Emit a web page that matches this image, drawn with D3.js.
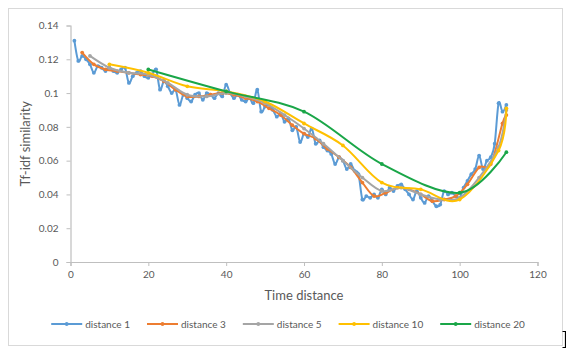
<!DOCTYPE html>
<html>
<head>
<meta charset="utf-8">
<script src="https://cdn.jsdelivr.net/npm/d3@7"></script>
<style>
  html, body { margin: 0; padding: 0; background: #fff; }
  svg { display: block; font-family: Lato, "Open Sans", sans-serif; }
</style>
</head>
<body>
<svg id="chart" width="566" height="356"></svg>
<script>
// ---- data ----
const seriesNames = ["distance 1", "distance 3", "distance 5", "distance 10", "distance 20"];
const seriesColors = ["#5B9BD5", "#ED7D31", "#A5A5A5", "#FFC000", "#1AA648"];

const x1 = d3.range(1, 113);
const y1 = [
  0.131, 0.119, 0.122, 0.120, 0.117, 0.112, 0.116, 0.115, 0.113, 0.115,
  0.113, 0.112, 0.114, 0.115, 0.106, 0.110, 0.112, 0.113, 0.110, 0.109,
  0.111, 0.114, 0.102, 0.107, 0.104, 0.100, 0.102, 0.093, 0.099, 0.097,
  0.095, 0.099, 0.100, 0.096, 0.100, 0.099, 0.097, 0.100, 0.098, 0.105,
  0.100, 0.097, 0.099, 0.096, 0.095, 0.097, 0.094, 0.102, 0.089, 0.092,
  0.093, 0.090, 0.086, 0.088, 0.083, 0.085, 0.078, 0.080, 0.071, 0.076,
  0.074, 0.079, 0.070, 0.072, 0.068, 0.066, 0.064, 0.058, 0.062, 0.060,
  0.055, 0.058, 0.054, 0.052, 0.037, 0.039, 0.038, 0.040, 0.038, 0.043,
  0.040, 0.044, 0.042, 0.045, 0.046, 0.043, 0.040, 0.037, 0.042, 0.038,
  0.035, 0.039, 0.036, 0.033, 0.034, 0.042, 0.040, 0.041, 0.039, 0.038,
  0.044, 0.048, 0.052, 0.055, 0.063, 0.055, 0.060, 0.062, 0.070, 0.094,
  0.089, 0.093
];

const x3 = [3,6,9,12,15,18,21,24,27,30,33,36,39,42,45,48,51,54,57,60,63,66,69,72,75,78,81,84,87,90,93,96,99,102,105,108,111,112];
const y3 = [0.124,0.117,0.114,0.113,0.112,0.111,0.110,0.107,0.102,0.098,0.098,0.099,0.100,0.099,0.097,0.095,0.091,0.087,0.081,0.076,0.073,0.067,0.062,0.056,0.047,0.039,0.041,0.044,0.043,0.040,0.036,0.037,0.039,0.046,0.056,0.058,0.082,0.087];

const x5 = [5,10,15,20,25,30,35,40,45,50,55,60,65,70,75,80,85,90,95,100,105,110,112];
const y5 = [0.122,0.115,0.112,0.111,0.106,0.099,0.098,0.100,0.098,0.094,0.087,0.079,0.070,0.060,0.050,0.042,0.044,0.040,0.037,0.038,0.050,0.068,0.090];

const x10 = [10,20,30,40,50,60,70,80,90,100,110,112];
const y10 = [0.117,0.112,0.104,0.101,0.095,0.082,0.069,0.047,0.043,0.037,0.066,0.091];

const x20 = [20,40,60,80,100,112];
const y20 = [0.114,0.101,0.089,0.058,0.041,0.065];

const xTicks = [0, 20, 40, 60, 80, 100, 120];
const yTicks = [0, 0.02, 0.04, 0.06, 0.08, 0.1, 0.12, 0.14];
const yTickLabels = ["0", "0.02", "0.04", "0.06", "0.08", "0.1", "0.12", "0.14"];
const xTitle = "Time distance";
const yTitle = "Tf-idf similarity";

// ---- layout ----
const svg = d3.select("#chart");
const plot = { left: 70.5, right: 537.5, top: 25.5, bottom: 262 };
const textColor = "#595959";
const axisColor = "#BFBFBF";

// outer chart border
svg.append("rect")
  .attr("x", 8.5).attr("y", 8.5)
  .attr("width", 554).attr("height", 337)
  .attr("fill", "#fff").attr("stroke", "#D9D9D9").attr("stroke-width", 1);

const x = d3.scaleLinear().domain([0, 120]).range([plot.left, plot.right]);
const y = d3.scaleLinear().domain([0, 0.14]).range([plot.bottom, plot.top]);

// axes
const xAxis = d3.axisBottom(x).tickValues(xTicks).tickSize(4).tickPadding(5).tickFormat(d3.format("d"));
const yAxis = d3.axisLeft(y).tickValues(yTicks).tickSize(4).tickPadding(8)
  .tickFormat((d, i) => yTickLabels[i]);

const gx = svg.append("g").attr("transform", `translate(0,${plot.bottom})`).call(xAxis);
const gy = svg.append("g").attr("transform", `translate(${plot.left},0)`).call(yAxis);
[gx, gy].forEach(g => {
  g.select(".domain").attr("stroke", axisColor).attr("stroke-width", 1.2);
  g.selectAll(".tick line").attr("stroke", axisColor);
  g.selectAll(".tick text").attr("fill", textColor).style("font-size", "10px")
    .style("font-family", "Lato, 'Open Sans', sans-serif");
});

// titles
svg.append("text")
  .attr("x", (plot.left + plot.right) / 2).attr("y", 300)
  .attr("text-anchor", "middle").attr("fill", textColor)
  .style("font-size", "13px").text(xTitle);

svg.append("text")
  .attr("transform", `translate(30,${(plot.top + plot.bottom) / 2}) rotate(-90)`)
  .attr("text-anchor", "middle").attr("fill", textColor)
  .style("font-size", "13px").text(yTitle);

// series
const series = [
  { xs: x1, ys: y1 },
  { xs: x3, ys: y3 },
  { xs: x5, ys: y5 },
  { xs: x10, ys: y10 },
  { xs: x20, ys: y20 }
];

const line = d3.line()
  .x(d => x(d[0])).y(d => y(d[1]))
  .curve(d3.curveCatmullRom.alpha(0));

series.forEach((s, i) => {
  const pts = s.xs.map((xv, j) => [xv, s.ys[j]]);
  const g = svg.append("g");
  g.append("path")
    .attr("d", line(pts))
    .attr("fill", "none")
    .attr("stroke", seriesColors[i])
    .attr("stroke-width", 2)
    .attr("stroke-linejoin", "round")
    .attr("stroke-linecap", "round");
  g.selectAll("circle").data(pts).join("circle")
    .attr("cx", d => x(d[0])).attr("cy", d => y(d[1]))
    .attr("r", 1.9)
    .attr("fill", seriesColors[i]);
});

// legend
const legend = svg.append("g");
const legendY = 324;
const items = seriesNames.map((name, i) => {
  const g = legend.append("g");
  g.append("line").attr("x1", 0).attr("x2", 31).attr("y1", 0).attr("y2", 0)
    .attr("stroke", seriesColors[i]).attr("stroke-width", 2);
  g.append("circle").attr("cx", 15.5).attr("cy", 0).attr("r", 1.9).attr("fill", seriesColors[i]);
  const t = g.append("text").attr("x", 34).attr("y", 3.5)
    .attr("fill", textColor).style("font-size", "10px").text(name);
  return { g, w: 34 + t.node().getComputedTextLength() };
});
const gap = 17;
const total = d3.sum(items, d => d.w) + gap * (items.length - 1);
let cx = 288 - total / 2;
items.forEach(it => {
  it.g.attr("transform", `translate(${cx},${legendY})`);
  cx += it.w + gap;
});

// small bracket glyph at lower right corner
svg.append("path")
  .attr("d", "M562.5,331.5 H565.5 V347.5 H562.5")
  .attr("stroke", "#000").attr("stroke-width", 1.2).attr("fill", "none");
</script>
</body>
</html>
